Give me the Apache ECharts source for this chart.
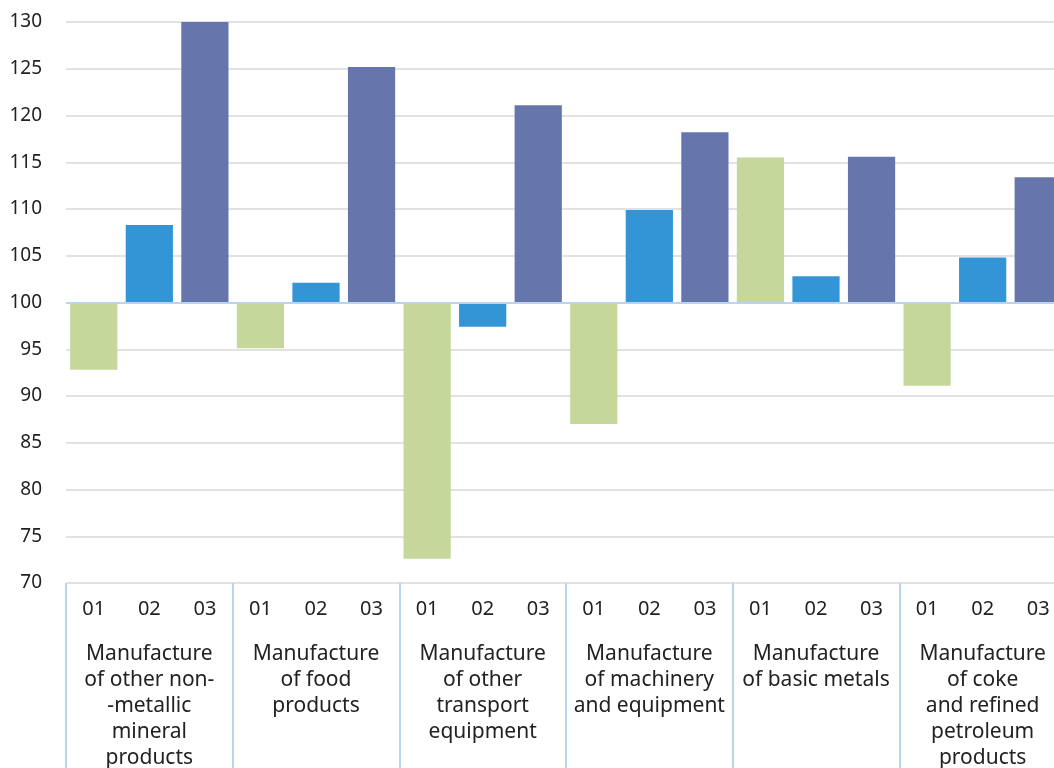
<!DOCTYPE html>
<html>
<head>
<meta charset="utf-8">
<script src="https://cdn.jsdelivr.net/npm/echarts@6/dist/echarts.min.js"></script>
<style>
html,body{margin:0;padding:0;background:#fff;}
#chart{width:1054px;height:768px;}
</style>
</head>
<body>
<div id="chart"></div>
<script>
const groups = [
  'Manufacture\nof other non-\n-metallic\nmineral\nproducts',
  'Manufacture\nof food\nproducts',
  'Manufacture\nof other\ntransport\nequipment',
  'Manufacture\nof machinery\nand equipment',
  'Manufacture\nof basic metals',
  'Manufacture\nof coke\nand refined\npetroleum\nproducts'
];
const periods = ['01', '02', '03'];
const values01 = [92.8, 95.1, 72.6, 87.0, 115.5, 91.1];
const values02 = [108.3, 102.1, 97.4, 109.9, 102.8, 104.8];
const values03 = [130.0, 125.2, 121.1, 118.2, 115.6, 113.4];
const baseValue = 100;
const yTicks = [70, 75, 80, 85, 90, 95, 100, 105, 110, 115, 120, 125, 130];

const colors = ['#c5d79b', '#3395d5', '#6676ad'];
const seriesVals = [values01, values02, values03];

const innerCats = [];
const barData = [];
groups.forEach((g, gi) => {
  periods.forEach((p, pi) => {
    innerCats.push(p);
    barData.push({
      value: +(seriesVals[pi][gi] - baseValue).toFixed(2),
      itemStyle: { color: colors[pi] }
    });
  });
});

const font = '"Noto Sans", sans-serif';
const chart = echarts.init(document.getElementById('chart'), null, { renderer: 'canvas' });
chart.setOption({
  animation: false,
  backgroundColor: '#fff',
  grid: { left: 66, width: 1000, top: 22, height: 561, containLabel: false, outerBoundsMode: 'none' },
  xAxis: [
    {
      type: 'category',
      data: innerCats,
      position: 'bottom',
      axisLine: { show: false, onZero: false },
      axisTick: { show: false },
      axisLabel: { fontSize: 20, color: '#222', margin: 16, fontFamily: font, interval: 0 }
    },
    {
      type: 'category',
      data: groups,
      position: 'bottom',
      boundaryGap: true,
      axisLine: { show: false, onZero: false },
      axisTick: { show: true, length: 190, interval: 0, lineStyle: { color: '#b9d4ec', width: 2 } },
      axisLabel: { fontSize: 21, color: '#222', margin: 58, lineHeight: 26, fontFamily: font, interval: 0, align: 'center' }
    }
  ],
  yAxis: {
    type: 'value',
    min: yTicks[0] - baseValue,
    max: yTicks[yTicks.length - 1] - baseValue,
    interval: yTicks[1] - yTicks[0],
    axisLine: { show: false },
    axisTick: { show: false },
    axisLabel: {
      fontSize: 19, color: '#222', margin: 24, fontFamily: font,
      formatter: v => String(Math.round(v + baseValue))
    },
    splitLine: { lineStyle: { color: '#e2e2e2', width: 2 } }
  },
  series: [
    {
      type: 'bar',
      xAxisIndex: 0,
      data: barData,
      barCategoryGap: '15%',
      markLine: {
        silent: true,
        symbol: 'none',
        label: { show: false },
        lineStyle: { color: '#b9d4ec', width: 2, type: 'solid' },
        data: [{ yAxis: 0 }]
      }
    }
  ]
});
</script>
</body>
</html>
